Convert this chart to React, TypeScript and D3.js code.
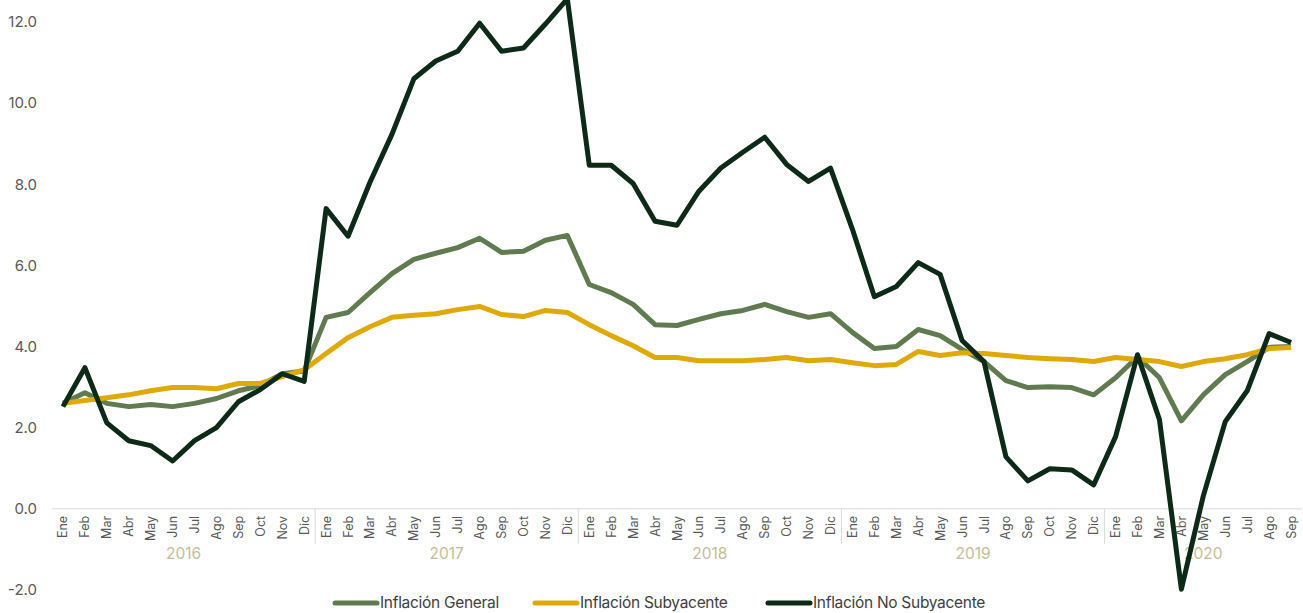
import * as d3 from "d3";
import { useEffect, useRef } from "react";

const months = ["Ene", "Feb", "Mar", "Abr", "May", "Jun", "Jul", "Ago", "Sep", "Oct", "Nov", "Dic"];
const years = ["2016", "2017", "2018", "2019", "2020"];
const yTicks = [-2, 0, 2, 4, 6, 8, 10, 12];

const general = [
  2.6, 2.86, 2.6, 2.52, 2.57, 2.52, 2.6, 2.72, 2.91, 3.04, 3.33, 3.4,
  4.72, 4.84, 5.33, 5.8, 6.15, 6.3, 6.44, 6.67, 6.32, 6.35, 6.62, 6.74,
  5.53, 5.33, 5.04, 4.54, 4.52, 4.67, 4.81, 4.89, 5.04, 4.86, 4.72, 4.81,
  4.35, 3.95, 4.0, 4.42, 4.27, 3.93, 3.63, 3.16, 2.99, 3.01, 2.99, 2.81,
  3.23, 3.75, 3.23, 2.17, 2.81, 3.31, 3.63, 3.98, 4.0,
];
const subyacente = [
  2.6, 2.67, 2.74, 2.81, 2.91, 2.99, 2.99, 2.96, 3.09, 3.09, 3.26, 3.43,
  3.83, 4.22, 4.49, 4.72, 4.77, 4.81, 4.91, 4.99, 4.79, 4.74, 4.89, 4.84,
  4.54, 4.27, 4.02, 3.73, 3.73, 3.65, 3.65, 3.65, 3.68, 3.73, 3.65, 3.68,
  3.6, 3.53, 3.56, 3.88, 3.78, 3.85, 3.83, 3.78, 3.73, 3.7, 3.68, 3.63,
  3.73, 3.68, 3.63, 3.51, 3.63, 3.7, 3.8, 3.95, 3.98,
];
const noSubyacente = [
  2.52, 3.48, 2.12, 1.68, 1.56, 1.18, 1.68, 2.0, 2.64, 2.94, 3.33, 3.14,
  7.4, 6.72, 8.05, 9.23, 10.6, 11.04, 11.28, 11.97, 11.28, 11.36, 11.95, 12.57,
  8.47, 8.47, 8.02, 7.09, 6.99, 7.83, 8.4, 8.79, 9.16, 8.49, 8.07, 8.4,
  6.89, 5.23, 5.48, 6.07, 5.78, 4.15, 3.63, 1.28, 0.69, 0.99, 0.96, 0.59,
  1.78, 3.8, 2.2, -1.98, 0.32, 2.15, 2.91, 4.32, 4.1,
];

const series = [
  { name: "Inflación General", values: general, color: "#5f7b4f" },
  { name: "Inflación Subyacente", values: subyacente, color: "#e0a90a" },
  { name: "Inflación No Subyacente", values: noSubyacente, color: "#0c2a17" },
];

const W = 1303;
const H = 613;

export default function App() {
  const ref = useRef<SVGSVGElement | null>(null);

  useEffect(() => {
    if (!ref.current) return;
    const svg = d3.select(ref.current);
    svg.selectAll("*").remove();

    const font = "Inter, 'Noto Sans', sans-serif";
    const labels: string[] = [];
    years.forEach((yr, yi) => {
      const n = yi === years.length - 1 ? 9 : 12;
      for (let m = 0; m < n; m++) labels.push(`${yr}-${m}`);
    });

    const x = d3.scaleBand<string>().domain(labels).range([52, 1302]);
    const y = d3.scaleLinear().domain([-2, 12]).range([590, 22]);
    const cx = (i: number) => (x(labels[i]) ?? 0) + x.bandwidth() / 2;

    // y labels
    svg
      .append("g")
      .selectAll("text")
      .data(yTicks)
      .join("text")
      .attr("x", 37)
      .attr("y", (d) => y(d))
      .attr("dy", "0.35em")
      .attr("text-anchor", "end")
      .attr("font-family", font)
      .attr("font-size", 15)
      .attr("fill", "#595959")
      .text((d) => d.toFixed(1));

    // axis line at zero
    svg
      .append("line")
      .attr("x1", 52)
      .attr("x2", 1302)
      .attr("y1", y(0))
      .attr("y2", y(0))
      .attr("stroke", "#d9d9d9")
      .attr("stroke-width", 1);

    // year separators
    const sepIdx = [12, 24, 36, 48];
    svg
      .append("g")
      .selectAll("line")
      .data(sepIdx)
      .join("line")
      .attr("x1", (i) => x(labels[i]) ?? 0)
      .attr("x2", (i) => x(labels[i]) ?? 0)
      .attr("y1", y(0))
      .attr("y2", y(0) + 35)
      .attr("stroke", "#d9d9d9");

    // month labels
    svg
      .append("g")
      .selectAll("text")
      .data(labels)
      .join("text")
      .attr("transform", (_, i) => `translate(${cx(i) + 4.5},${y(0) + 7}) rotate(-90)`)
      .attr("text-anchor", "end")
      .attr("font-family", font)
      .attr("font-size", 12.5)
      .attr("fill", "#595959")
      .text((d) => months[+d.split("-")[1]]);

    // year labels
    svg
      .append("g")
      .selectAll("text")
      .data(years)
      .join("text")
      .attr("x", (_, yi) => {
        const start = yi * 12;
        const end = Math.min(start + 11, labels.length - 1);
        return (cx(start) + cx(end)) / 2;
      })
      .attr("y", 559)
      .attr("text-anchor", "middle")
      .attr("font-family", font)
      .attr("font-size", 15.5)
      .attr("fill", "#c5bd97")
      .text((d) => d);

    const line = d3
      .line<number>()
      .x((_, i) => cx(i))
      .y((d) => y(d));

    series.forEach((s) => {
      svg
        .append("path")
        .datum(s.values)
        .attr("fill", "none")
        .attr("stroke", s.color)
        .attr("stroke-width", 5)
        .attr("stroke-linejoin", "round")
        .attr("d", line);
    });

    // legend
    const legendX = [335, 535, 768];
    const lg = svg
      .append("g")
      .selectAll("g")
      .data(series)
      .join("g")
      .attr("transform", (_, i) => `translate(${legendX[i]},603)`);
    lg.append("line")
      .attr("x1", 0)
      .attr("x2", 42)
      .attr("stroke", (d) => d.color)
      .attr("stroke-width", 5)
      .attr("stroke-linecap", "round");
    lg.append("text")
      .attr("x", 45)
      .attr("dy", "0.35em")
      .attr("font-family", font)
      .attr("font-size", 15.5)
      .attr("letter-spacing", "-0.3")
      .attr("fill", "#404040")
      .text((d) => d.name);
  }, []);

  return (
    <svg
      ref={ref}
      width={W}
      height={H}
      style={{ position: "absolute", left: 0, top: 0, display: "block" }}
      role="img"
      aria-label="Inflación"
    />
  );
}
